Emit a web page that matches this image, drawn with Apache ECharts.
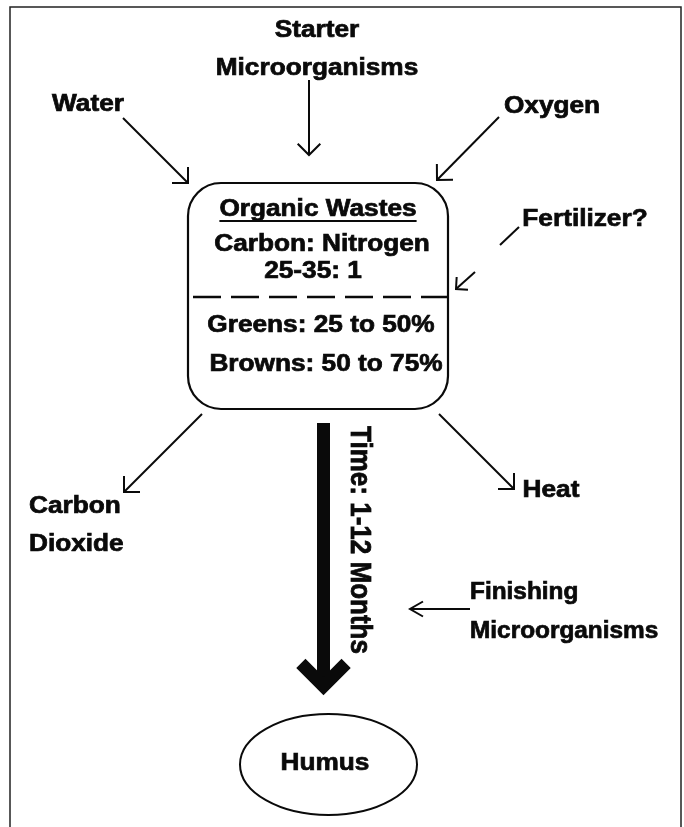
<!DOCTYPE html>
<html><head><meta charset="utf-8">
<script src="https://cdn.jsdelivr.net/npm/echarts/dist/echarts.min.js"></script>
<style>html,body{margin:0;padding:0;background:#fff}#c{width:684px;height:827px}</style>
</head><body><div id="c"></div>
<script>
// ---- diagram content (data-space coordinates, 0..684 x 0..827, y downward) ----
const labels = ['Starter','Microorganisms','Water','Oxygen','Organic Wastes','Carbon: Nitrogen','25-35: 1',
  'Greens: 25 to 50%','Browns: 50 to 75%','Fertilizer?','Carbon','Dioxide','Heat','Finishing','Microorganisms','Humus','Time: 1-12 Months'];
const labelX = [317,317,88,552,318,322,313,321,326,585,29,29,551,470,470,325,359];
const labelY = [31,69,105,107,210,245,272,326,365,220,507,545,491,593,632,764,540];
const labelAnchor = ['center','center','center','center','center','center','center','center','center','center','left','left','center','left','left','center','center'];
const underlined = ['Organic Wastes'];
const rotatedLabels = ['Time: 1-12 Months'];

// arrows: [x1, y1] -> [x2, y2], tip at (x2, y2)
const arrowFrom = [[309,80],[123,118],[499,117],[500,245],[475,272],[202,414],[439,414],[470,609],[323.5,423]];
const arrowTo   = [[309,155],[188,183],[437,180],[519,227],[456,289],[124,492],[514,489],[410,609],[323.5,686]];
const arrowKind = ['thin','thin','thin','plain','small','thin','thin','narrow','bold'];

// containers
const boxCorners = [[188,183],[448,409]];
const dividerEnds = [[193,297],[449,297]];
const humusCenter = [328.5,764.5];
const humusRadii = [88.5,50.5];
const frameCorners = [[10,7],[681,845]];

// ---- styles ----
const FONT = '"Liberation Sans", Arial, Helvetica, sans-serif';
const FS = 23, SX = 1.14, SX_NARROW = 1.06, FS_ROT = 26;
const narrowLabelIdx = [13, 14];
const INK = '#0a0a0a';
const arrowStyles = {
  thin:   {w:2, head:16, angle:Math.PI/4},
  small:  {w:2, head:12, angle:Math.PI/4},
  narrow: {w:2, head:15, angle:Math.PI/6},
  plain:  {w:2, head:0, angle:0},
  bold:   {w:13, head:32, angle:Math.PI/4}
};

const measureCtx = document.createElement('canvas').getContext('2d');
function textWidth(t, size){ measureCtx.font = 'bold ' + size + 'px ' + FONT; return measureCtx.measureText(t).width; }

const chart = echarts.init(document.getElementById('c'), null, {renderer:'canvas'});
chart.setOption({
  backgroundColor:'#ffffff',
  animation:false,
  grid:{left:0,right:0,top:0,bottom:0},
  xAxis:{type:'value',min:0,max:684,show:false},
  yAxis:{type:'value',min:0,max:827,inverse:true,show:false},
  series:[
    { // frame, box, divider, ellipse
      type:'custom', clip:false, silent:true,
      data:[[0]],
      renderItem:function(params, api){
        const f1 = api.coord(frameCorners[0]), f2 = api.coord(frameCorners[1]);
        const b1 = api.coord(boxCorners[0]), b2 = api.coord(boxCorners[1]);
        const d1 = api.coord(dividerEnds[0]), d2 = api.coord(dividerEnds[1]);
        const hc = api.coord(humusCenter);
        const hr = api.coord([humusCenter[0]+humusRadii[0], humusCenter[1]+humusRadii[1]]);
        return {type:'group', children:[
          {type:'rect', shape:{x:f1[0],y:f1[1],width:f2[0]-f1[0],height:f2[1]-f1[1]}, style:{fill:null,stroke:'#222',lineWidth:1.5}},
          {type:'rect', shape:{x:b1[0],y:b1[1],width:b2[0]-b1[0],height:b2[1]-b1[1],r:33}, style:{fill:null,stroke:INK,lineWidth:2.2}},
          {type:'line', shape:{x1:d1[0],y1:d1[1],x2:d2[0],y2:d2[1]}, style:{stroke:INK,lineWidth:2.4,lineDash:[28,10]}},
          {type:'ellipse', shape:{cx:hc[0],cy:hc[1],rx:hr[0]-hc[0],ry:hr[1]-hc[1]}, style:{fill:null,stroke:INK,lineWidth:2}}
        ]};
      }
    },
    { // arrows
      type:'custom', clip:false, silent:true,
      encode:{x:[0,2], y:[1,3]},
      data: arrowFrom.map((a,i)=>[a[0],a[1],arrowTo[i][0],arrowTo[i][1]]),
      renderItem:function(params, api){
        const i = params.dataIndex;
        const a = api.coord([api.value(0), api.value(1)]);
        const b = api.coord([api.value(2), api.value(3)]);
        const st = arrowStyles[arrowKind[i]];
        const children = [{type:'line', shape:{x1:a[0],y1:a[1],x2:b[0],y2:b[1]}, style:{stroke:INK,lineWidth:st.w,lineCap:'butt'}}];
        if (st.head > 0) {
          const ang = Math.atan2(b[1]-a[1], b[0]-a[0]);
          const p1 = [b[0]-st.head*Math.cos(ang-st.angle), b[1]-st.head*Math.sin(ang-st.angle)];
          const p2 = [b[0]-st.head*Math.cos(ang+st.angle), b[1]-st.head*Math.sin(ang+st.angle)];
          children.push({type:'polyline', shape:{points:[p1,[b[0],b[1]],p2]}, style:{stroke:INK,fill:null,lineWidth:st.w,lineJoin:'miter',miterLimit:10}});
        }
        return {type:'group', children:children};
      }
    },
    { // labels
      type:'custom', clip:false, silent:true,
      encode:{x:0, y:1},
      data: labels.map((t,i)=>[labelX[i], labelY[i]]),
      renderItem:function(params, api){
        const i = params.dataIndex;
        const t = labels[i];
        const p = api.coord([api.value(0), api.value(1)]);
        const rot = rotatedLabels.indexOf(t) >= 0;
        const size = rot ? FS_ROT : FS;
        const sx = narrowLabelIdx.indexOf(i) >= 0 ? SX_NARROW : SX;
        const el = {type:'text', x:p[0], y:p[1],
          rotation: rot ? -Math.PI/2 : 0,
          scaleX: rot ? 1 : sx, scaleY: rot ? 1.12 : 1,
          style:{text:t, fill:INK, stroke:INK, lineWidth:0.7, fontSize:size, fontWeight:'bold', fontFamily:FONT,
                 align:labelAnchor[i], verticalAlign:'middle'}};
        if (underlined.indexOf(t) >= 0) {
          const w = textWidth(t, size) * sx;
          const x0 = labelAnchor[i] === 'left' ? p[0] : p[0] - w/2;
          return {type:'group', children:[el,
            {type:'line', shape:{x1:x0, y1:p[1]+11, x2:x0+w, y2:p[1]+11}, style:{stroke:INK, lineWidth:2}}]};
        }
        return el;
      }
    }
  ]
});
</script>
</body></html>
